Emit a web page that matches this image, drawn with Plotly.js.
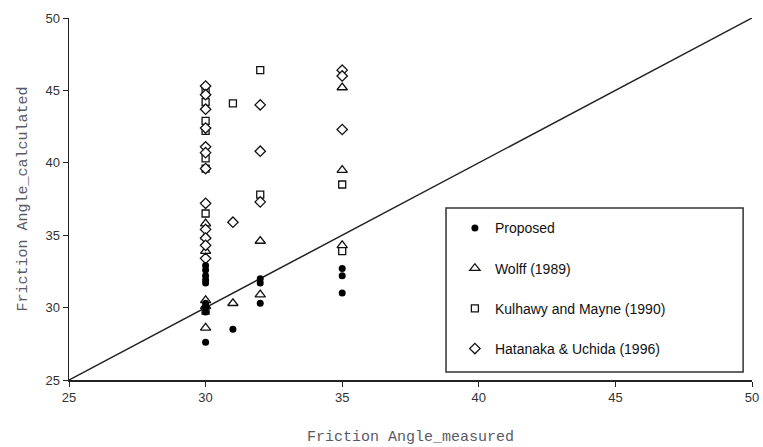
<!DOCTYPE html>
<html>
<head>
<meta charset="utf-8">
<script src="https://cdn.plot.ly/plotly-3.0.1.min.js"></script>
<style>
  html, body { margin: 0; padding: 0; background: #fff; }
  #chart { width: 763px; height: 447px; }
</style>
</head>
<body>
<div id="chart"></div>
<script>
// Measured vs calculated friction angle (degrees) for four methods
const proposedX = [30, 30, 30, 30, 30, 30, 30, 30, 30, 31, 32, 32, 32, 35, 35, 35];
const proposedY = [32.9, 32.6, 32.2, 31.9, 31.7, 30.3, 30.0, 29.7, 27.6, 28.5, 32.0, 31.7, 30.3, 32.7, 32.2, 31.0];

const wolffX = [30, 30, 30, 30, 30, 30, 31, 32, 32, 35, 35, 35];
const wolffY = [35.8, 34.9, 33.9, 30.5, 30.1, 28.6, 30.3, 34.6, 30.9, 45.2, 39.5, 34.3];

const kulhawyX = [30, 30, 30, 30, 30, 30, 30, 30, 31, 32, 32, 35, 35];
const kulhawyY = [45.0, 44.2, 42.9, 42.2, 40.3, 39.6, 36.5, 29.8, 44.1, 46.4, 37.8, 38.5, 33.9];

const hatanakaX = [30, 30, 30, 30, 30, 30, 30, 30, 30, 30, 30, 30, 31, 32, 32, 32, 35, 35, 35];
const hatanakaY = [45.3, 44.7, 43.7, 42.4, 41.1, 40.7, 39.6, 37.2, 35.4, 34.8, 34.3, 33.4, 35.9, 44.0, 40.8, 37.3, 46.4, 46.0, 42.3];

// 1:1 reference line
const lineX = [25, 50];
const lineY = [25, 50];

const seriesNames = ['Proposed', 'Wolff (1989)', 'Kulhawy and Mayne (1990)', 'Hatanaka & Uchida (1996)'];

// hollow marker: white fill with a thin black outline
const openMarker = (symbol, size) => ({
  symbol: symbol, size: size, color: '#ffffff',
  line: { color: '#111111', width: 1.3 }
});

const traces = [
  {
    x: lineX, y: lineY, mode: 'lines', showlegend: false, hoverinfo: 'skip',
    line: { color: '#222222', width: 1.5 }
  },
  {
    x: wolffX, y: wolffY, mode: 'markers', name: seriesNames[1], legendgroup: 'b', legendrank: 2,
    marker: openMarker('triangle-up', 9)
  },
  {
    x: kulhawyX, y: kulhawyY, mode: 'markers', name: seriesNames[2], legendgroup: 'c', legendrank: 3,
    marker: openMarker('square', 7)
  },
  {
    x: hatanakaX, y: hatanakaY, mode: 'markers', name: seriesNames[3], legendgroup: 'd', legendrank: 4,
    marker: openMarker('diamond', 8)
  },
  {
    x: proposedX, y: proposedY, mode: 'markers', name: seriesNames[0], legendgroup: 'a', legendrank: 1,
    marker: { symbol: 'circle', size: 7, color: '#000000' }
  }
];

const tickFont = { family: '"Liberation Sans", Arial, sans-serif', size: 13, color: '#333333' };
const titleFont = { family: '"Liberation Mono", "Courier New", monospace', size: 15, color: '#5a5a66' };

const layout = {
  width: 763, height: 447,
  margin: { l: 69, r: 11, t: 18, b: 67 },
  paper_bgcolor: '#ffffff', plot_bgcolor: '#ffffff',
  showlegend: true,
  xaxis: {
    range: [25, 50], dtick: 5, tick0: 25,
    showgrid: false, zeroline: false,
    showline: true, linecolor: '#222222', linewidth: 1.5,
    ticks: 'outside', ticklen: 5, tickcolor: '#222222',
    tickfont: tickFont,
    title: { text: 'Friction Angle_measured', font: titleFont, standoff: 26 }
  },
  yaxis: {
    range: [25, 50], dtick: 5, tick0: 25,
    showgrid: false, zeroline: false,
    showline: true, linecolor: '#222222', linewidth: 1.5,
    ticks: 'outside', ticklen: 5, tickcolor: '#222222',
    tickfont: tickFont,
    title: { text: 'Friction Angle_calculated', font: titleFont, standoff: 14 }
  },
  legend: {
    x: 0.565, y: 0.463, xanchor: 'left', yanchor: 'top',
    bgcolor: 'rgba(0,0,0,0)', borderwidth: 0,
    font: { family: '"Liberation Sans", Arial, sans-serif', size: 14, color: '#111111' },
    itemwidth: 30, tracegroupgap: 19, traceorder: 'grouped'
  },
  shapes: [{
    type: 'rect', xref: 'paper', yref: 'paper',
    x0: 0.552, x1: 0.987, y0: 0.022, y1: 0.475,
    line: { color: '#333333', width: 1.5 }, fillcolor: 'rgba(0,0,0,0)', layer: 'below'
  }]
};

Plotly.newPlot('chart', traces, layout, { displayModeBar: false, staticPlot: true });
</script>
</body>
</html>
